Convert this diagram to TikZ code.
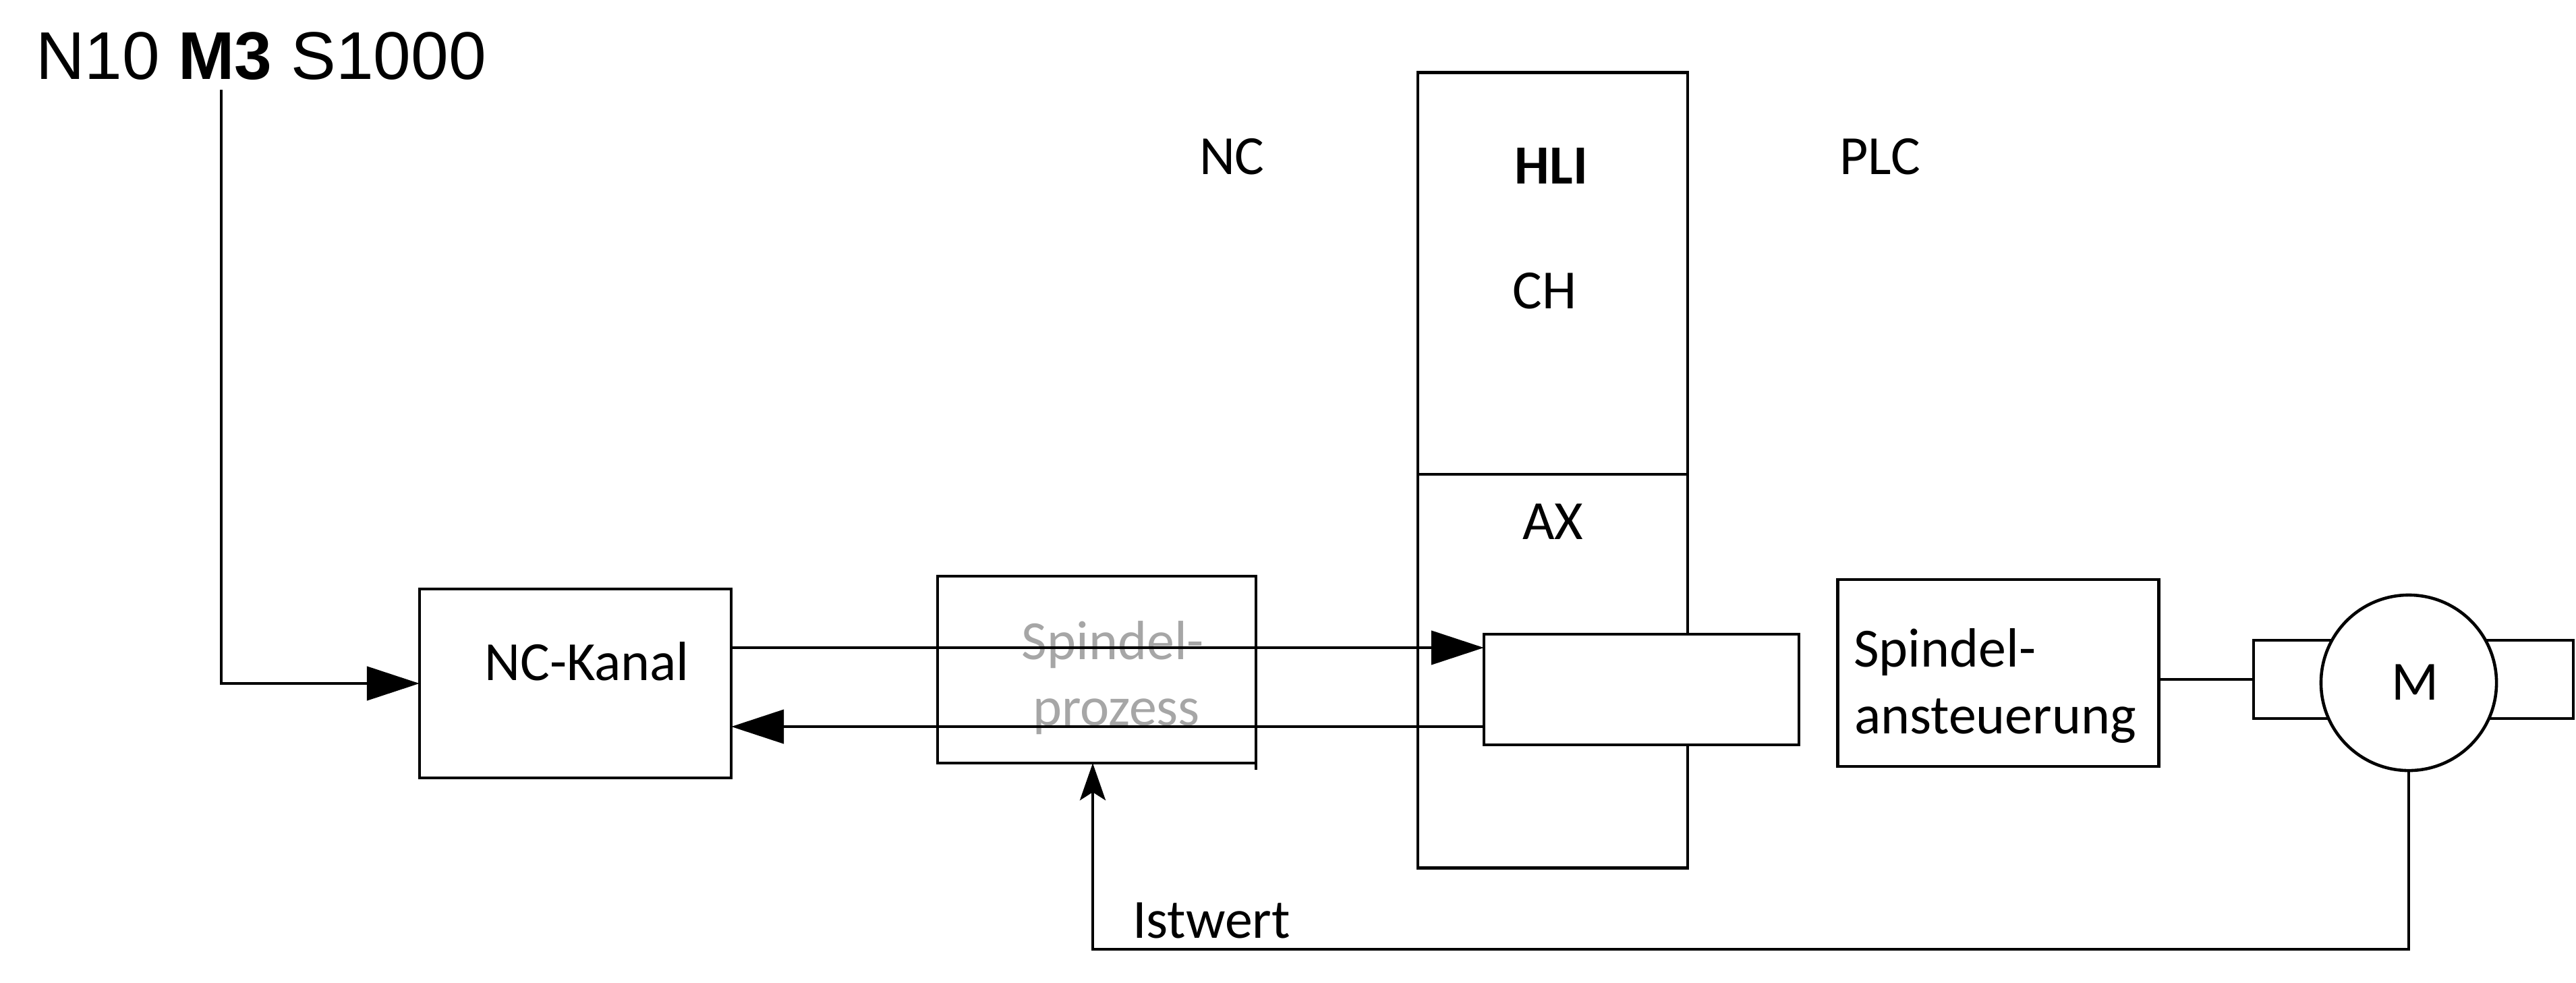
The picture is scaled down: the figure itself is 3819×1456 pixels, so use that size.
\documentclass[tikz,border=0pt]{standalone}
\usepackage{fontspec}
\setmainfont{Carlito}
\newfontfamily\arialfont{Liberation Sans}
\usetikzlibrary{arrows.meta,calc}
\definecolor{spgray}{RGB}{166,166,166}
\begin{document}
\begin{tikzpicture}[x=0.01cm,y=-0.01cm,line width=1.3pt,
  blk/.style={draw,rectangle,fill=white,inner sep=0pt,outer sep=0pt},
  txt/.style={inner sep=0pt,outer sep=0pt,font=\fontsize{23.3pt}{28pt}\selectfont},
  tri/.style={-{Triangle[length=0.78cm,width=0.5cm]}},
  stl/.style={-{Stealth[length=0.55cm,width=0.38cm,inset=0.12cm]}}]
\useasboundingbox (0,0) rectangle (3819,1456);
% command line
\node[inner sep=0pt,anchor=base west,font=\arialfont\fontsize{28.45pt}{34pt}\selectfont] (cmd) at (51,117) {N10 \textbf{M3} S1000};
\coordinate (m3) at (328,133);
% boxes
\node[blk,minimum width=4.62cm,minimum height=2.80cm] (nck) at (853,1013) {};
\node[blk,minimum width=4.72cm,minimum height=2.77cm] (sp) at (1626,992.5) {};
\node[blk,minimum width=4.00cm,minimum height=11.78cm] (hli) at (2302,697) {};
\coordinate (div) at (2302,703);
\draw (div -| hli.west) -- (div -| hli.east);
\node[blk,minimum width=4.67cm,minimum height=1.64cm] (ax) at (2433.5,1022) {};
\node[blk,minimum width=4.76cm,minimum height=2.77cm] (sa) at (2962.5,997.5) {};
\node[blk,minimum width=4.74cm,minimum height=1.16cm] (mr) at (3578,1007) {};
\node[draw,circle,fill=white,inner sep=0pt,outer sep=0pt,minimum size=2.60cm] (mc) at (3571,1012) {};
\draw (sp.south east) -- ++(0,10);
% texts
\node[txt,anchor=base west] (nc) at (1778,258) {NC};
\node[txt,anchor=base west] (plc) at (2727,258) {PLC};
\node[txt,anchor=base,font=\fontsize{23.3pt}{28pt}\selectfont\bfseries] (hlit) at (2300,272) {HLI};
\node[txt,anchor=base] (ch) at (2290,457) {CH};
\node[txt,anchor=base] (axt) at (2302,799) {AX};
\node[txt,anchor=base] (nckt) at (870,1008) {NC-Kanal};
\node[txt,anchor=base,text=spgray] (sp1) at (1650,977) {Spindel-};
\node[txt,anchor=base,text=spgray] (sp2) at (1655,1075) {prozess};
\node[txt,anchor=base west] (sa1) at (2748,988) {Spindel-};
\node[txt,anchor=base west] (sa2) at (2749,1087) {ansteuerung};
\node[txt,anchor=base] (mt) at (3580,1037) {M};
\node[txt,anchor=base west] (ist) at (1679,1390) {Istwert};
% connectors
\draw[tri] (m3) |- (nck.west);
\coordinate (upy) at (0,960);
\coordinate (lowy) at (0,1077);
\draw[tri] (nck.east |- upy) -- (ax.west |- upy);
\draw[tri] (ax.west |- lowy) -- (nck.east |- lowy);
\draw (sa.east |- mr.west) -- (mr.west);
\coordinate (fb) at (1620,1407);
\draw[stl] (mc.south) |- (fb) -- (fb |- sp.south);
\end{tikzpicture}
\end{document}
